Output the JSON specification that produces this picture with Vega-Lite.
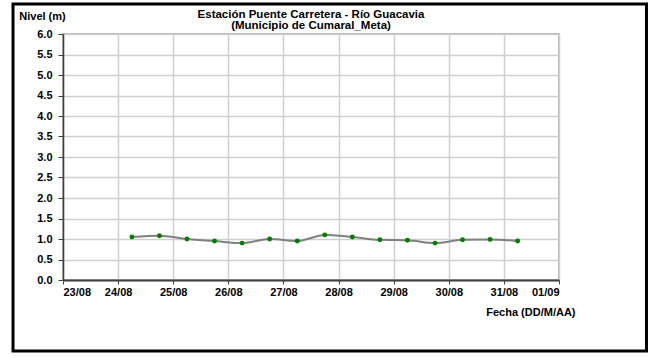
{
  "$schema": "https://vega.github.io/schema/vega-lite/v6.json",
  "width": 496,
  "height": 246,
  "autosize": "none",
  "padding": {"left": 63, "top": 34, "right": 91, "bottom": 78},
  "background": "white",
  "title": {
    "text": ["Estación Puente Carretera - Río Guacavia", "(Municipio de Cumaral_Meta)"],
    "font": "Liberation Sans",
    "fontSize": 11.5,
    "fontWeight": "bold",
    "color": "black",
    "anchor": "middle",
    "offset": -29,
    "lineHeight": 10.5
  },
  "config": {
    "view": {"stroke": "#a0a0a0", "strokeWidth": 1.5},
    "axis": {
      "labelFont": "Liberation Sans",
      "labelFontSize": 11,
      "labelFontWeight": "bold",
      "labelColor": "black",
      "labelOverlap": false,
      "titleFont": "Liberation Sans",
      "titleFontSize": 11,
      "titleFontWeight": "bold",
      "titleColor": "black",
      "grid": true,
      "gridColor": "#cfcfcf",
      "gridWidth": 1.5,
      "domainColor": "#404040",
      "domainWidth": 2,
      "tickColor": "#404040",
      "tickSize": 4,
      "tickWidth": 1
    }
  },
  "data": {
    "values": [
      {"fecha": "2009-08-24T06:00:00Z", "nivel": 1.05},
      {"fecha": "2009-08-24T18:00:00Z", "nivel": 1.08},
      {"fecha": "2009-08-25T06:00:00Z", "nivel": 1.00},
      {"fecha": "2009-08-25T18:00:00Z", "nivel": 0.95},
      {"fecha": "2009-08-26T06:00:00Z", "nivel": 0.90},
      {"fecha": "2009-08-26T18:00:00Z", "nivel": 1.00},
      {"fecha": "2009-08-27T06:00:00Z", "nivel": 0.95},
      {"fecha": "2009-08-27T18:00:00Z", "nivel": 1.10},
      {"fecha": "2009-08-28T06:00:00Z", "nivel": 1.05},
      {"fecha": "2009-08-28T18:00:00Z", "nivel": 0.98},
      {"fecha": "2009-08-29T06:00:00Z", "nivel": 0.97},
      {"fecha": "2009-08-29T18:00:00Z", "nivel": 0.90},
      {"fecha": "2009-08-30T06:00:00Z", "nivel": 0.98},
      {"fecha": "2009-08-30T18:00:00Z", "nivel": 0.99},
      {"fecha": "2009-08-31T06:00:00Z", "nivel": 0.95}
    ]
  },
  "layer": [
    {
      "mark": {"type": "line", "color": "#808080", "strokeWidth": 2, "interpolate": "monotone"},
      "encoding": {
        "x": {
          "field": "fecha",
          "type": "temporal",
          "scale": {
            "type": "utc",
            "domain": [
              {"year": 2009, "month": 8, "date": 23, "utc": true},
              {"year": 2009, "month": 9, "date": 1, "utc": true}
            ],
            "nice": false
          },
          "axis": {
            "title": "Fecha (DD/M/AA)",
            "format": "%d/%m",
            "tickCount": {"interval": "day", "step": 1},
            "labelPadding": 2,
            "titleX": 512,
            "titleY": 32,
            "titleAlign": "right",
            "titleBaseline": "middle",
            "titleAnchor": "end"
          }
        },
        "y": {
          "field": "nivel",
          "type": "quantitative",
          "scale": {"domain": [0, 6], "nice": false, "zero": true},
          "axis": {
            "title": "Nivel (m)",
            "values": [0, 0.5, 1, 1.5, 2, 2.5, 3, 3.5, 4, 4.5, 5, 5.5, 6],
            "tickCount": 13,
            "labelOverlap": false,
            "format": ".1f",
            "domainWidth": 1.5,
            "tickSize": 5,
            "labelPadding": 6,
            "titleAngle": 0,
            "titleX": -21,
            "titleY": -18,
            "titleAlign": "center",
            "titleBaseline": "middle"
          }
        }
      }
    },
    {
      "mark": {"type": "point", "filled": true, "color": "#008000", "size": 24, "opacity": 1},
      "encoding": {
        "x": {"field": "fecha", "type": "temporal"},
        "y": {"field": "nivel", "type": "quantitative"}
      }
    },
    {
      "data": {"values": [{}]},
      "mark": {"type": "rect", "fill": null, "fillOpacity": 0, "stroke": "black", "strokeWidth": 3, "clip": false},
      "encoding": {
        "x": {"datum": {"year": 2009, "month": 8, "date": 22, "hours": 2, "minutes": 14, "utc": true}, "type": "temporal"},
        "x2": {"datum": {"year": 2009, "month": 9, "date": 2, "hours": 14, "minutes": 6, "utc": true}},
        "y": {"datum": 6.732, "type": "quantitative"},
        "y2": {"datum": -1.732}
      }
    }
  ]
}
